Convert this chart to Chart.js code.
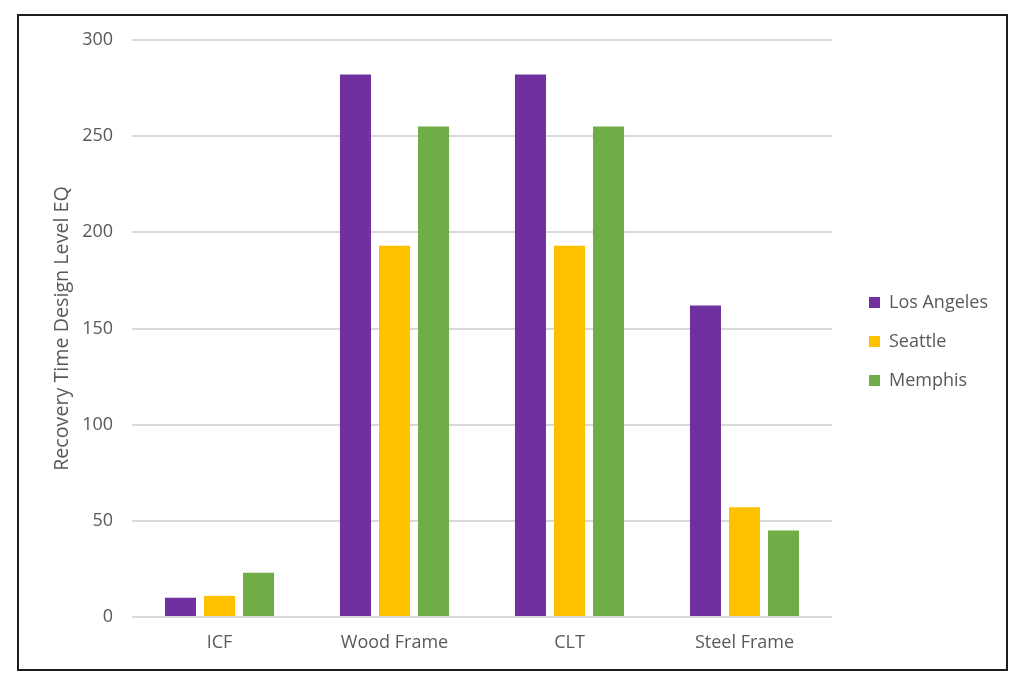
<!DOCTYPE html>
<html>
<head>
<meta charset="utf-8">
<script src="https://cdn.jsdelivr.net/npm/chart.js@4.4.1/dist/chart.umd.min.js"></script>
<style>
  html, body { margin: 0; padding: 0; background: #fff; }
  #wrap { position: relative; width: 1024px; height: 683px; }
  #frame { position: absolute; left: 17px; top: 14px; width: 987px; height: 653px; border: 2px solid #1e1e1e; pointer-events: none; }
  canvas { position: absolute; left: 0; top: 0; }
</style>
</head>
<body>
<div id="wrap">
  <canvas id="c" width="1024" height="683"></canvas>
  <div id="frame"></div>
</div>
<script>
const categories = ['ICF', 'Wood Frame', 'CLT', 'Steel Frame'];
const losAngeles = [10, 282, 282, 162];
const seattle = [11, 193, 193, 57];
const memphis = [23, 255, 255, 45];
const yTicks = [0, 50, 100, 150, 200, 250, 300];
const yTitle = 'Recovery Time Design Level EQ';

const FONT = "'Open Sans', sans-serif";
const GRAY = '#595959';

new Chart(document.getElementById('c'), {
  type: 'bar',
  data: {
    labels: categories,
    datasets: [
      { label: 'Los Angeles', data: losAngeles, backgroundColor: '#7030A0' },
      { label: 'Seattle', data: seattle, backgroundColor: '#FFC000' },
      { label: 'Memphis', data: memphis, backgroundColor: '#70AD47' }
    ]
  },
  options: {
    responsive: false,
    animation: false,
    devicePixelRatio: 1,
    categoryPercentage: 0.669,
    barPercentage: 0.795,
    layout: { padding: { left: 50.2, top: 29, bottom: 29, right: 26 } },
    plugins: {
      tooltip: { enabled: false },
      legend: {
        position: 'right',
        align: 'center',
        labels: {
          boxWidth: 11, boxHeight: 11, padding: 21,
          color: GRAY, font: { family: FONT, size: 18 }
        }
      }
    },
    scales: {
      x: {
        grid: { display: false, drawTicks: false },
        border: { display: false },
        ticks: { color: GRAY, font: { family: FONT, size: 18 }, padding: 15.2 },
        afterFit: (s) => { s.height = 37; }
      },
      xTop: {
        type: 'category', position: 'top', labels: categories,
        grid: { display: false, drawTicks: false }, border: { display: false },
        ticks: { display: false },
        afterFit: (s) => { s.height = 11; }
      },
      y: {
        min: 0, max: 300,
        afterBuildTicks: (axis) => { axis.ticks = yTicks.map(v => ({ value: v })); },
        grid: { color: '#D9D9D9', lineWidth: 2, drawTicks: false },
        border: { display: false },
        ticks: { color: GRAY, font: { family: FONT, size: 18 }, padding: 19 },
        title: { display: true, text: yTitle, color: GRAY, font: { family: FONT, size: 19.7 }, padding: { top: 0, bottom: -10.7 } }
      },
      yRight: {
        type: 'linear', position: 'right', min: 0, max: 300,
        grid: { display: false, drawTicks: false }, border: { display: false },
        ticks: { display: false },
        afterFit: (s) => { s.width = 16; }
      }
    }
  }
});
</script>
</body>
</html>
